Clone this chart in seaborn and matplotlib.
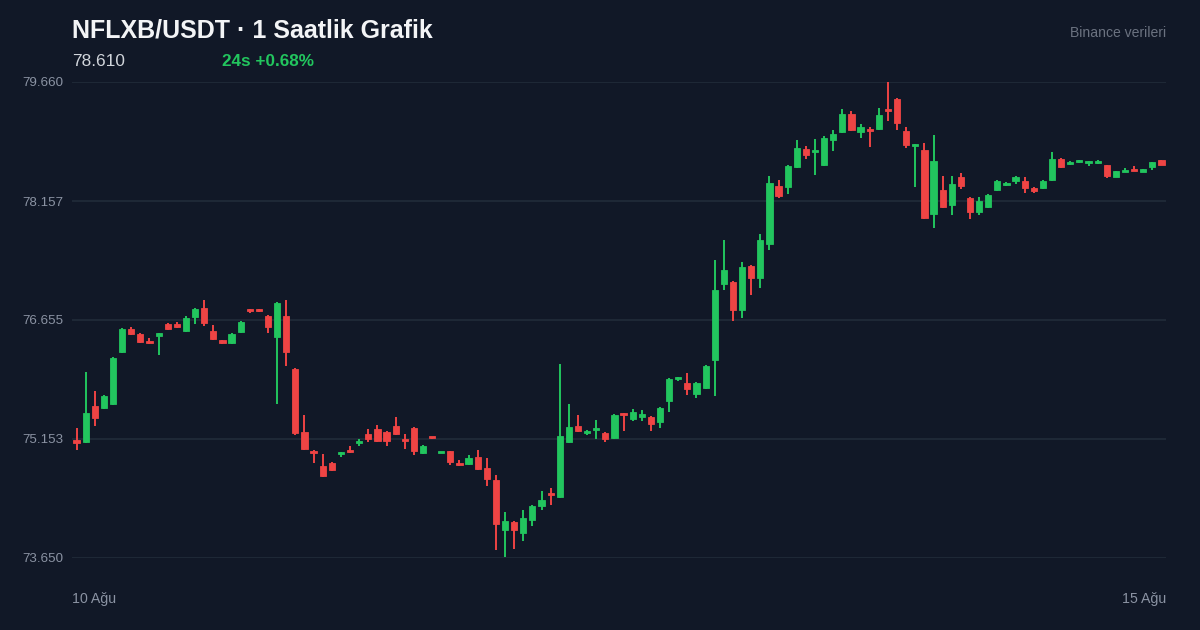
import matplotlib
matplotlib.use("Agg")
import matplotlib.pyplot as plt
import seaborn as sns
import numpy as np
import pandas as pd

# ---- data (hourly candles) ----
opens = [75.140, 75.115, 75.569, 75.544, 75.594, 76.251, 76.541, 76.478, 76.390, 76.453,
         76.605, 76.605, 76.516, 76.693, 76.807, 76.516, 76.402, 76.364, 76.503, 76.781,
         76.781, 76.706, 76.440, 76.706, 76.036, 75.241, 75.001, 74.812, 74.849, 74.963,
         75.001, 75.102, 75.216, 75.279, 75.241, 75.317, 75.153, 75.291, 74.976, 75.178,
         74.976, 75.001, 74.837, 74.837, 74.925, 74.786, 74.635, 74.004, 74.105, 73.966,
         74.130, 74.307, 74.458, 74.420, 75.115, 75.317, 75.228, 75.266, 75.228, 75.165,
         75.468, 75.405, 75.430, 75.430, 75.367, 75.632, 75.910, 75.860, 75.721, 75.796,
         76.150, 77.110, 77.135, 76.781, 77.337, 77.185, 77.615, 78.347, 78.334, 78.587,
         78.814, 78.776, 78.612, 78.928, 79.029, 79.256, 79.029, 79.067, 79.067, 79.306,
         79.445, 79.041, 78.852, 78.801, 77.993, 78.296, 78.107, 78.461, 78.195, 78.019,
         78.082, 78.296, 78.360, 78.410, 78.410, 78.322, 78.322, 78.423, 78.688, 78.625,
         78.650, 78.637, 78.637, 78.612, 78.461, 78.524, 78.549, 78.524, 78.587, 78.675]
highs = [75.291, 75.998, 75.759, 75.708, 76.188, 76.554, 76.566, 76.491, 76.428, 76.491,
         76.617, 76.630, 76.705, 76.806, 76.908, 76.592, 76.402, 76.491, 76.642, 76.794,
         76.794, 76.718, 76.882, 76.908, 76.049, 75.456, 75.014, 74.963, 74.862, 74.988,
         75.064, 75.153, 75.279, 75.329, 75.254, 75.430, 75.216, 75.304, 75.077, 75.178,
         74.988, 75.001, 74.887, 74.950, 75.014, 74.913, 74.698, 74.231, 74.117, 74.256,
         74.319, 74.496, 74.534, 76.099, 75.594, 75.456, 75.266, 75.392, 75.241, 75.468,
         75.481, 75.531, 75.519, 75.443, 75.557, 75.923, 75.935, 75.986, 75.872, 76.087,
         77.413, 77.665, 77.147, 77.387, 77.350, 77.741, 78.473, 78.423, 78.612, 78.928,
         78.852, 78.940, 78.978, 79.054, 79.319, 79.294, 79.130, 79.092, 79.332, 79.660,
         79.458, 79.092, 78.877, 78.890, 78.991, 78.473, 78.473, 78.511, 78.208, 78.208,
         78.246, 78.423, 78.397, 78.473, 78.461, 78.334, 78.423, 78.776, 78.700, 78.663,
         78.675, 78.663, 78.675, 78.612, 78.536, 78.574, 78.599, 78.562, 78.650, 78.675]
lows = [75.014, 75.102, 75.317, 75.531, 75.582, 76.238, 76.466, 76.364, 76.352, 76.213,
        76.529, 76.554, 76.503, 76.605, 76.579, 76.402, 76.352, 76.352, 76.491, 76.743,
        76.756, 76.491, 75.594, 76.074, 75.203, 75.014, 74.849, 74.673, 74.748, 74.925,
        74.976, 75.064, 75.115, 75.115, 75.064, 75.203, 75.026, 74.950, 74.963, 75.153,
        74.976, 74.824, 74.812, 74.824, 74.761, 74.559, 73.751, 73.663, 73.764, 73.865,
        74.054, 74.256, 74.319, 74.408, 75.102, 75.241, 75.203, 75.153, 75.115, 75.153,
        75.254, 75.380, 75.380, 75.254, 75.291, 75.493, 75.885, 75.708, 75.670, 75.784,
        75.695, 77.034, 76.642, 76.680, 76.971, 77.059, 77.539, 78.196, 78.246, 78.574,
        78.688, 78.486, 78.599, 78.789, 79.016, 79.041, 78.953, 78.839, 79.054, 79.168,
        79.054, 78.827, 78.334, 77.930, 77.817, 78.069, 77.981, 78.309, 77.930, 77.981,
        78.069, 78.284, 78.347, 78.372, 78.259, 78.259, 78.309, 78.410, 78.574, 78.612,
        78.637, 78.599, 78.625, 78.448, 78.461, 78.524, 78.536, 78.524, 78.549, 78.610]
closes = [75.102, 75.481, 75.418, 75.695, 76.175, 76.541, 76.478, 76.377, 76.364, 76.491,
          76.541, 76.567, 76.680, 76.794, 76.617, 76.415, 76.364, 76.478, 76.630, 76.769,
          76.769, 76.567, 76.870, 76.251, 75.228, 75.026, 74.976, 74.685, 74.761, 74.988,
          74.988, 75.115, 75.153, 75.127, 75.127, 75.216, 75.127, 75.001, 75.064, 75.165,
          74.988, 74.862, 74.824, 74.913, 74.774, 74.647, 74.079, 74.117, 74.004, 74.155,
          74.307, 74.382, 74.445, 75.190, 75.304, 75.254, 75.254, 75.279, 75.153, 75.456,
          75.456, 75.493, 75.468, 75.342, 75.544, 75.910, 75.923, 75.784, 75.860, 76.074,
          77.034, 77.286, 76.781, 77.324, 77.185, 77.665, 78.385, 78.221, 78.599, 78.827,
          78.738, 78.789, 78.953, 79.003, 79.256, 79.054, 79.092, 79.041, 79.243, 79.294,
          79.142, 78.865, 78.865, 77.943, 78.663, 78.082, 78.372, 78.347, 78.019, 78.158,
          78.233, 78.410, 78.372, 78.461, 78.322, 78.284, 78.410, 78.688, 78.587, 78.650,
          78.663, 78.650, 78.663, 78.473, 78.536, 78.549, 78.536, 78.562, 78.650, 78.610]

y_ticks = [73.650, 75.153, 76.655, 78.157, 79.660]
x_labels = ["10 Ağu", "15 Ağu"]
title = "NFLXB/USDT · 1 Saatlik Grafik"
last_price = "78.610"
change_text = "24s +0.68%"
source_text = "Binance verileri"

# ---- style ----
BG = "#111827"
GRID = "#1f2937"
UP = "#22c55e"
DOWN = "#ef4444"
TICK = "#8b93a3"

sns.set_theme(style="dark", rc={"axes.facecolor": BG, "figure.facecolor": BG})
plt.rcParams["font.family"] = ["Liberation Sans", "DejaVu Sans"]

df = pd.DataFrame({"open": opens, "high": highs, "low": lows, "close": closes})
df["idx"] = np.arange(len(df))
df["up"] = df["close"] >= df["open"]
df["bottom"] = df[["open", "close"]].min(axis=1)
df["height"] = (df["close"] - df["open"]).abs().clip(lower=0.02)
df["color"] = np.where(df["up"], UP, DOWN)

fig = plt.figure(figsize=(12, 6.3), dpi=100)
ax = fig.add_axes([72 / 1200, 1 - 558 / 630, (1166 - 72) / 1200, (558 - 82) / 630])
ax.set_facecolor(BG)

for yv in y_ticks:
    ax.axhline(yv, color=GRID, lw=1.4, zorder=0)

ax.vlines(df["idx"], df["low"], df["high"], colors=df["color"], lw=1.4, zorder=2, clip_on=False)
ax.bar(df["idx"], df["height"], bottom=df["bottom"], width=0.68, color=df["color"],
       edgecolor=df["color"], linewidth=0.6, zorder=3, clip_on=False)

ax.set_xlim(-0.5, len(df) - 0.5)
ax.set_ylim(y_ticks[0], y_ticks[-1])
ax.set_yticks(y_ticks)
ax.set_yticklabels([f"{v:.3f}" for v in y_ticks], color=TICK, fontsize=9.6)
ax.tick_params(axis="y", length=0, pad=6)
ax.set_xticks([])
ax.grid(False)
for s in ax.spines.values():
    s.set_visible(False)

fig.text(72 / 1200, 1 - 30 / 630, title, color="#f3f4f6", fontsize=18, fontweight="bold",
         va="center", ha="left")
fig.text(72 / 1200, 1 - 61 / 630, last_price, color="#d1d5db", fontsize=12.4,
         va="center", ha="left")
fig.text(222 / 1200, 1 - 61 / 630, change_text, color=UP, fontsize=12.3, fontweight="bold",
         va="center", ha="left")
fig.text(1166 / 1200, 1 - 33 / 630, source_text, color="#6b7280", fontsize=10.1,
         va="center", ha="right")
fig.text(72 / 1200, 1 - 599 / 630, x_labels[0], color=TICK, fontsize=10.2, va="center", ha="left")
fig.text(1166 / 1200, 1 - 599 / 630, x_labels[1], color=TICK, fontsize=10.2, va="center", ha="right")

fig.savefig("out.png", dpi=100, facecolor=BG)
